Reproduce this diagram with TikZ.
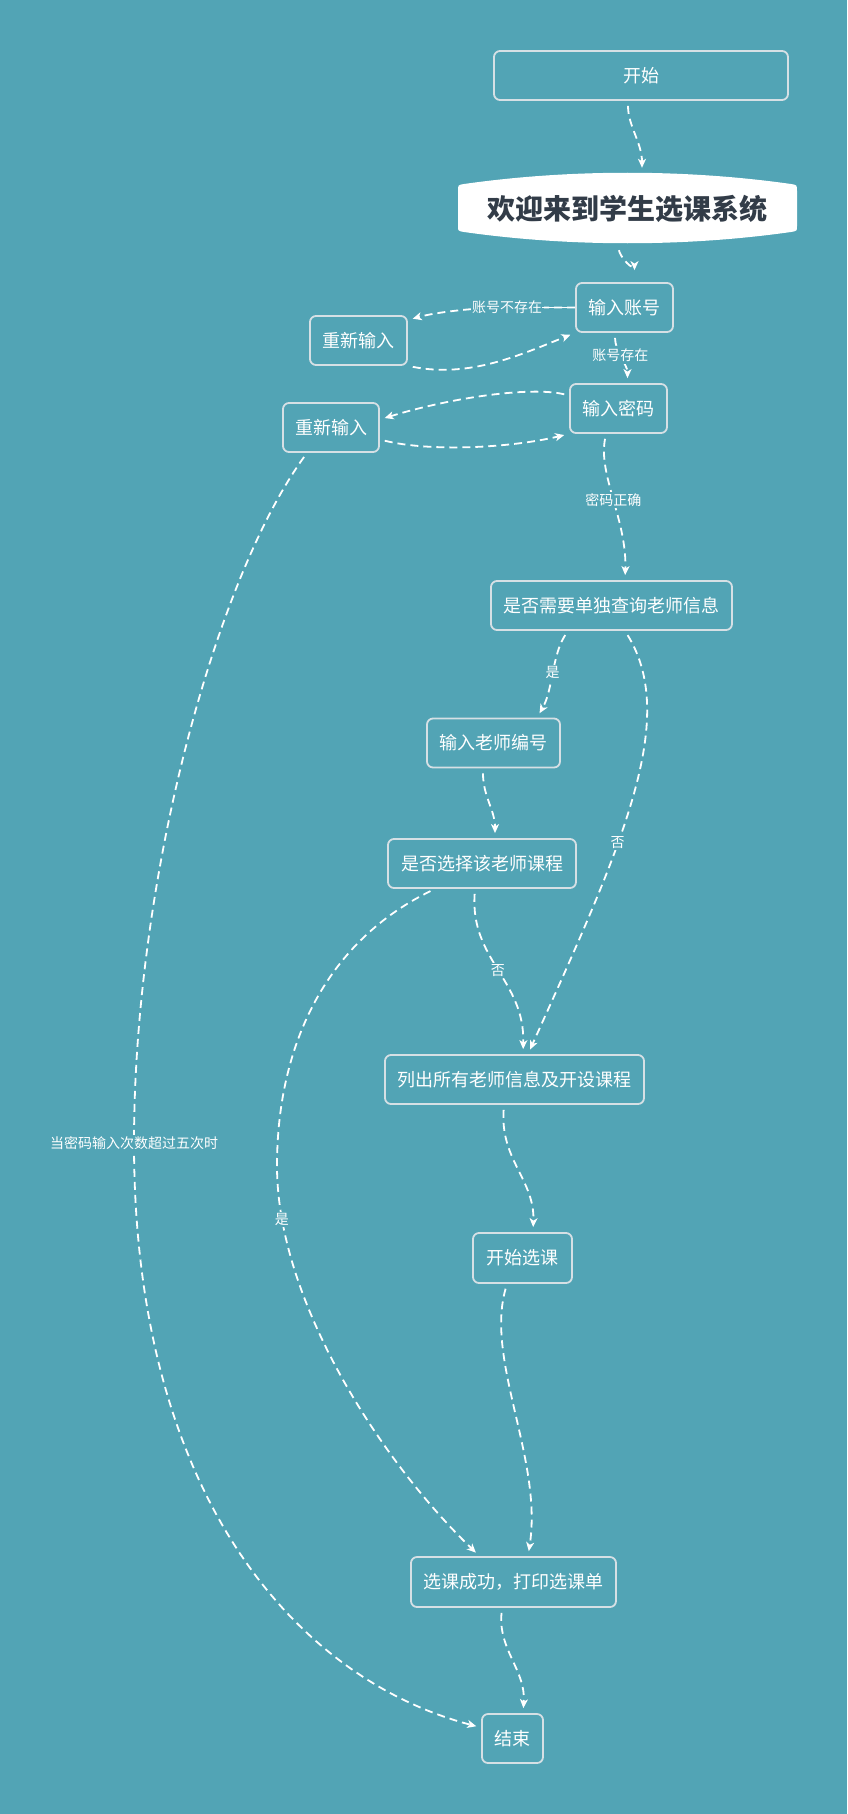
\documentclass[tikz,border=0pt]{standalone}
\usepackage{fontspec}
\setmainfont{Noto Sans CJK SC}
\usetikzlibrary{arrows.meta}
\definecolor{bg}{RGB}{82,164,181}
\definecolor{bd}{RGB}{214,224,229}
\definecolor{ttl}{RGB}{50,60,72}
\begin{document}
\begin{tikzpicture}[x=1pt,y=-1pt,
  box/.style={draw=bd, line width=1.8pt, rounded corners=6pt, text=white,
    font=\fontsize{18}{22}\selectfont, minimum height=49pt, inner sep=0pt},
  edge/.style={draw=white, line width=1.8pt, dash pattern=on 8pt off 5pt,
    -{Stealth[length=9pt,width=8pt,inset=2.5pt]}, shorten <=5pt, shorten >=5pt},
  solidedge/.style={draw=white, line width=1.8pt},
  lbl/.style={fill=bg, text=white, font=\fontsize{14}{16}\selectfont, inner sep=1.5pt}]
\fill[bg] (0,0) rectangle (847,1814);
\useasboundingbox (0,0) rectangle (847,1814);

% title shape
\fill[white] (458,191) -- (458,226) .. controls (458,231) .. (464,232)
  .. controls (570,247) and (685,247) .. (791,232) .. controls (797,231) .. (797,226)
  -- (797,191) .. controls (797,185) .. (791,184)
  .. controls (685,169) and (570,169) .. (464,184) .. controls (458,185) .. cycle;

\node[box, minimum width=294pt] (s) at (641,75.5) {开始};
\node[minimum width=339pt, minimum height=72pt, inner sep=0pt, text=ttl,
  font=\fontsize{28}{32}\selectfont\bfseries] (w) at (627.5,209) {欢迎来到学生选课系统};
\node[box, minimum width=97pt] (za) at (624.5,307.5) {输入账号};
\node[box, minimum width=97pt] (r1) at (358.5,340.5) {重新输入};
\node[box, minimum width=97pt] (mm) at (618.5,408.5) {输入密码};
\node[box, minimum width=96pt] (r2) at (331,427.5) {重新输入};
\node[box, minimum width=241pt] (q1) at (611.5,605.5) {是否需要单独查询老师信息};
\node[box, minimum width=133pt] (tn) at (493.5,743) {输入老师编号};
\node[box, minimum width=188pt] (qs) at (482,863.5) {是否选择该老师课程};
\node[box, minimum width=259pt] (ls) at (514.5,1079.5) {列出所有老师信息及开设课程};
\node[box, minimum width=99pt, minimum height=50pt] (ks) at (522.5,1258) {开始选课};
\node[box, minimum width=205pt, minimum height=50pt] (sc) at (513.5,1582) {选课成功，打印选课单};
\node[box, minimum width=61pt] (en) at (512.5,1738.5) {结束};

% edges
\draw[edge] ([xshift=-13pt]s.south) .. controls +(0,25) and +(0,-30) .. ([xshift=14.5pt]w.north);
\draw[edge, shorten >=12pt] ([xshift=-8.5pt]w.south) .. controls +(0,10) and +(0,-8) .. ([xshift=10pt]za.north);
\draw[edge, shorten <=0pt] (za.west) -- ++(-68,0) node[lbl, pos=1] {账号不存在}
  .. controls +(-30,0) and +(28,-8) .. ([yshift=-5pt]r1.north east);
\draw[solidedge] (za.west) -- ++(-33,0);
\draw[edge] (r1.south east) .. controls (470,378) and (520,355) .. (za.south west);
\draw[edge] ([xshift=-9.5pt]za.south) .. controls +(0,18) and +(0,-18) .. ([xshift=9pt]mm.north)
  node[lbl, pos=0.45] {账号存在};
\draw[edge] ([yshift=13pt]mm.west) .. controls (530,386) and (450,398) .. ([yshift=8pt]r2.east);
\draw[edge] ([yshift=-12pt]r2.east) .. controls (430,452) and (510,448) .. (mm.south west);
\draw[edge] ([xshift=-12.5pt]mm.south) .. controls (598,475) and (627,520) .. ([xshift=13.5pt]q1.north)
  node[lbl, pos=0.5] {密码正确};
\draw[edge] ([xshift=-43.5pt]q1.south) .. controls (552,655) and (553,690) .. ([xshift=43.5pt]tn.north)
  node[lbl, pos=0.5] {是};
\draw[edge] ([xshift=13.5pt]q1.south) .. controls (680,720) and (620,850) .. ([xshift=13.5pt]ls.north)
  node[lbl, pos=0.6] {否};
\draw[edge] ([xshift=-10.5pt]tn.south) .. controls +(0,28) and +(0,-28) .. ([xshift=13pt]qs.north);
\draw[edge] ([xshift=-7pt]qs.south) .. controls (470,960) and (525,980) .. ([xshift=8.5pt]ls.north)
  node[lbl, pos=0.5] {否};
\draw[edge] ([xshift=-47pt]qs.south) .. controls (330,940) and (277,1040) .. (277,1166)
  .. controls (277,1300) and (380,1460) .. ([xshift=-34pt]sc.north) node[lbl, pos=0.13] {是};
\draw[edge] ([xshift=-10.5pt]ls.south) .. controls (500,1160) and (535,1180) .. ([xshift=10.5pt]ks.north);
\draw[edge] ([xshift=-15.5pt]ks.south) .. controls (485,1360) and (543,1460) .. ([xshift=14.5pt]sc.north);
\draw[edge] ([xshift=-11.5pt]sc.south) .. controls (498,1650) and (526,1670) .. ([xshift=10.5pt]en.north);
\draw[edge] ([xshift=-24pt]r2.south) .. controls (215,580) and (134,880) .. (134,1143)
  node[lbl] {当密码输入次数超过五次时}
  .. controls (134,1500) and (300,1680) .. ([yshift=11pt]en.west);
\end{tikzpicture}
\end{document}
